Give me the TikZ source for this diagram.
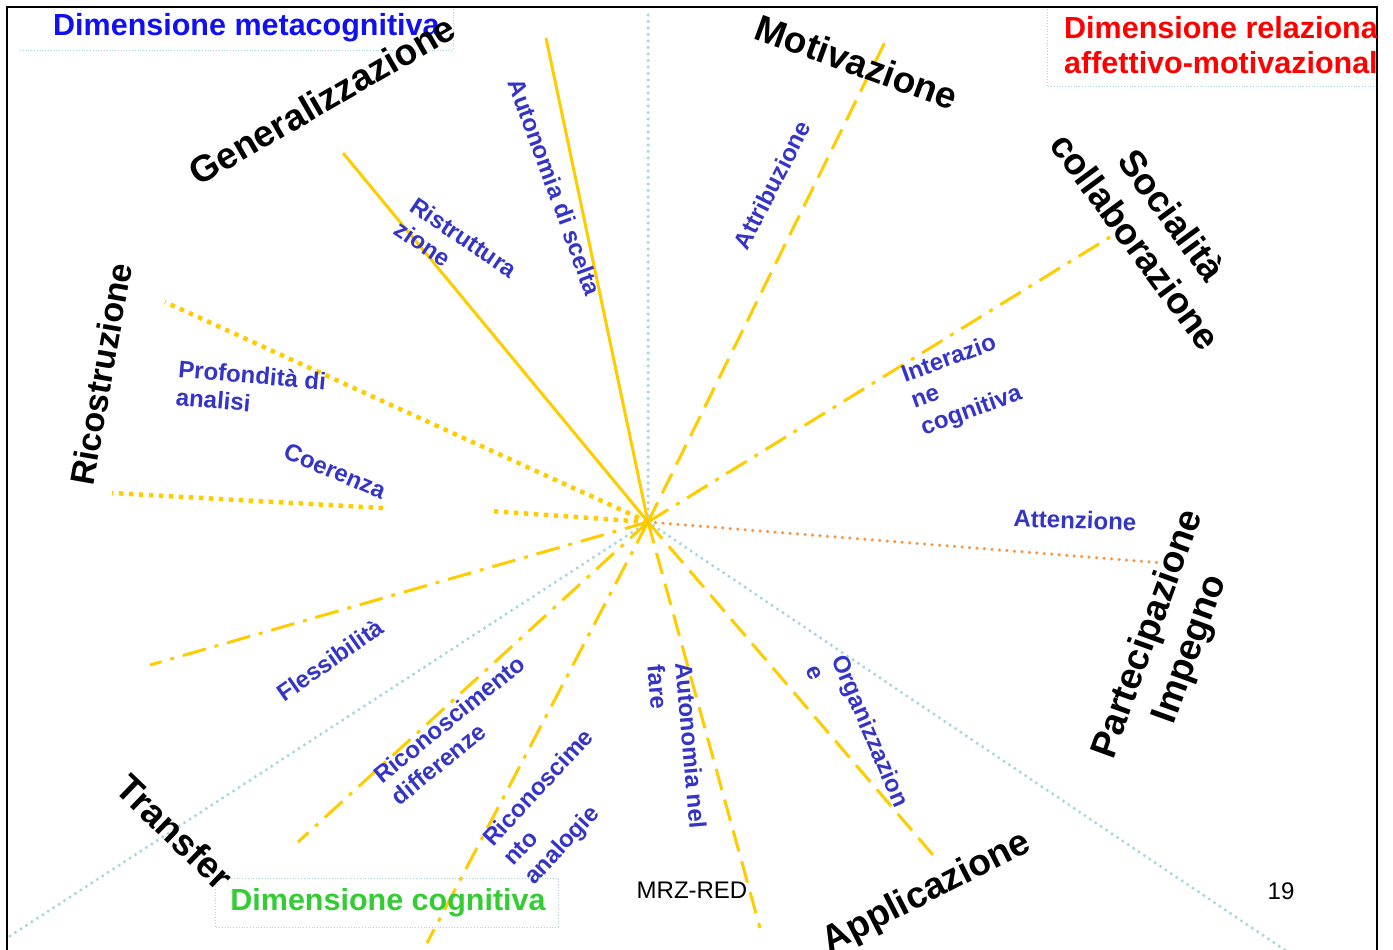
\documentclass[tikz,border=0pt]{standalone}
\usepackage{fontspec}
\setmainfont{Liberation Sans}
\usepackage{tikz}
\usetikzlibrary{positioning}
\usepackage{xcolor}
\definecolor{raygold}{HTML}{FFCC00}
\definecolor{guideblue}{HTML}{A8D8DC}
\definecolor{itemblue}{HTML}{3434C8}
\definecolor{headblue}{HTML}{1010F0}
\definecolor{headred}{HTML}{FF0000}
\definecolor{headgreen}{HTML}{33CC33}
\definecolor{attorange}{HTML}{F79646}

\begin{document}
\begin{tikzpicture}[
                x=1pt, y=-1pt,
                every node/.style={inner sep=0pt},
                heading/.style={font=\fontsize{30.5}{35}\selectfont\bfseries, align=left},
                area/.style={font=\fontsize{37}{45}\selectfont\bfseries, align=center},
                item/.style={font=\fontsize{24}{28}\selectfont\bfseries, text=itemblue, align=left},
                footer/.style={font=\fontsize{24}{28}\selectfont},
                solidray/.style={draw=raygold, line width=3pt},
                squaredots/.style={draw=raygold, line width=4.5pt, dash pattern=on 4.5pt off 5.5pt},
                dashray/.style={draw=raygold, line width=3pt, dash pattern=on 22pt off 10pt},
                dashdotray/.style={draw=raygold, line width=3pt, dash pattern=on 24pt off 9pt on 4pt off 9pt},
                attray/.style={draw=attorange, line width=3.5pt, line cap=round, dash pattern=on 0pt off 7.5pt},
                guide/.style={draw=guideblue, line width=3.5pt, line cap=round, dash pattern=on 0pt off 6.5pt},
                boxline/.style={draw=guideblue, line width=0.8pt, dotted},
                ]
        \useasboundingbox (0,0) rectangle (1393,950);

        % frame and the three sector boxes
        \draw[line width=2.5pt] (7,950) -- (7,7) -- (1377,7) -- (1377,950);
        \draw[boxline] (20,50) -- (453,50) -- (453,9);
        \draw[boxline] (1047,9) -- (1047,86) -- (1376,86);
        \draw[boxline] (215,878) rectangle (558,927);

        % centre of the star and the free ends of the rays
        \coordinate (hub) at (648,522);
        \coordinate (topGuide) at (648,9);
        \coordinate (leftGuide) at (10,936);
        \coordinate (rightGuide) at (1285,950);
        \coordinate (sceltaEnd) at (546,38);
        \coordinate (ristrEnd) at (343,153);
        \coordinate (profEnd) at (165,302);
        \coordinate (coerEnd) at (112,493);
        \coordinate (coerGapA) at (490,511);
        \coordinate (coerGapB) at (383,508);
        \coordinate (flessEnd) at (150,665);
        \coordinate (diffEnd) at (298,842);
        \coordinate (analogEnd) at (427,943);
        \coordinate (fareEnd) at (760,928);
        \coordinate (orgEnd) at (933,855);
        \coordinate (attEnd) at (1163,563);
        \coordinate (interEnd) at (1110,237);
        \coordinate (attribEnd) at (885,42);

        % dotted guides between the sectors
        \draw[guide] (hub) -- (topGuide);
        \draw[guide] (hub) -- (leftGuide);
        \draw[guide] (hub) -- (rightGuide);

        % rays
        \draw[solidray] (hub) -- (sceltaEnd);
        \draw[solidray] (hub) -- (ristrEnd);
        \draw[squaredots] (hub) -- (profEnd);
        \draw[squaredots] (hub) -- (coerGapA);
        \draw[squaredots] (coerGapB) -- (coerEnd);
        \draw[dashdotray] (hub) -- (flessEnd);
        \draw[dashdotray] (hub) -- (diffEnd);
        \draw[dashdotray] (hub) -- (analogEnd);
        \draw[dashray] (hub) -- (fareEnd);
        \draw[dashray] (hub) -- (orgEnd);
        \draw[attray] (hub) -- (attEnd);
        \draw[dashdotray] (hub) -- (interEnd);
        \draw[dashray] (hub) -- (attribEnd);

        % sector titles
        \node [heading, text=headblue, anchor=west] (metaTitle) at (53,28) {Dimensione metacognitiva};
        \begin{scope}
                \clip (0,0) rectangle (1376,950);
                \node [heading, text=headred, anchor=west] (relTitle) at (1064,45) {Dimensione relazionale\\affettivo-motivazionale};
        \end{scope}
        \node [heading, text=headgreen] (cogTitle) at (388,903) {Dimensione cognitiva};

        % areas
        \node [area, rotate=30] (generalizzazione) at (322,100) {Generalizzazione};
        \node [area, rotate=-20] (motivazione) at (857,62) {Motivazione};
        \node [area, rotate=-53.5] (socialita) at (1154,228) {Socialità\\collaborazione};
        \node [area, rotate=80, font=\fontsize{34}{40}\selectfont\bfseries] (ricostruzione) at (101,374) {Ricostruzione};
        \node [area, rotate=70] (partecipazione) at (1170,642) {Partecipazione\\Impegno};
        \node [area, rotate=27] (applicazione) at (927,893) {Applicazione};
        \node [area, rotate=-44] (transfer) at (175,832) {Transfer};

        % items along the rays
        \node [item, rotate=-70] (scelta) at (555,187) {Autonomia di scelta};
        \node [item, rotate=-34] (ristrutturazione) at (456,249) {Ristruttura\\zione};
        \node [item, rotate=-5] (profondita) at (251,389) {Profondità di\\analisi};
        \node [item, rotate=-23] (coerenza) at (335,471) {Coerenza};
        \node [item, rotate=35] (flessibilita) at (330,660) {Flessibilità};
        \node [item, rotate=39] (differenze) at (458,730) {Riconoscimento\\differenze};
        \node [item, rotate=47] (analogie) at (560,808) {Riconoscime\\nto\\analogie};
        \node [item, rotate=-85] (fare) at (677,747) {Autonomia nel\\fare};
        \node [item, rotate=-67] (organizzazione) at (858,736) {Organizzazion\\e};
        \node [item, rotate=-2] (attenzione) at (1075,520) {Attenzione};
        \node [item, rotate=20] (interazione) at (962,385) {Interazio\\ne\\cognitiva};
        \node [item, rotate=63] (attribuzione) at (772,185) {Attribuzione};

        % footer
        \node [footer] (mrz) at (692,890) {MRZ-RED};
        \node [footer] (pageNo) at (1281,891) {19};

\end{tikzpicture}
\end{document}
